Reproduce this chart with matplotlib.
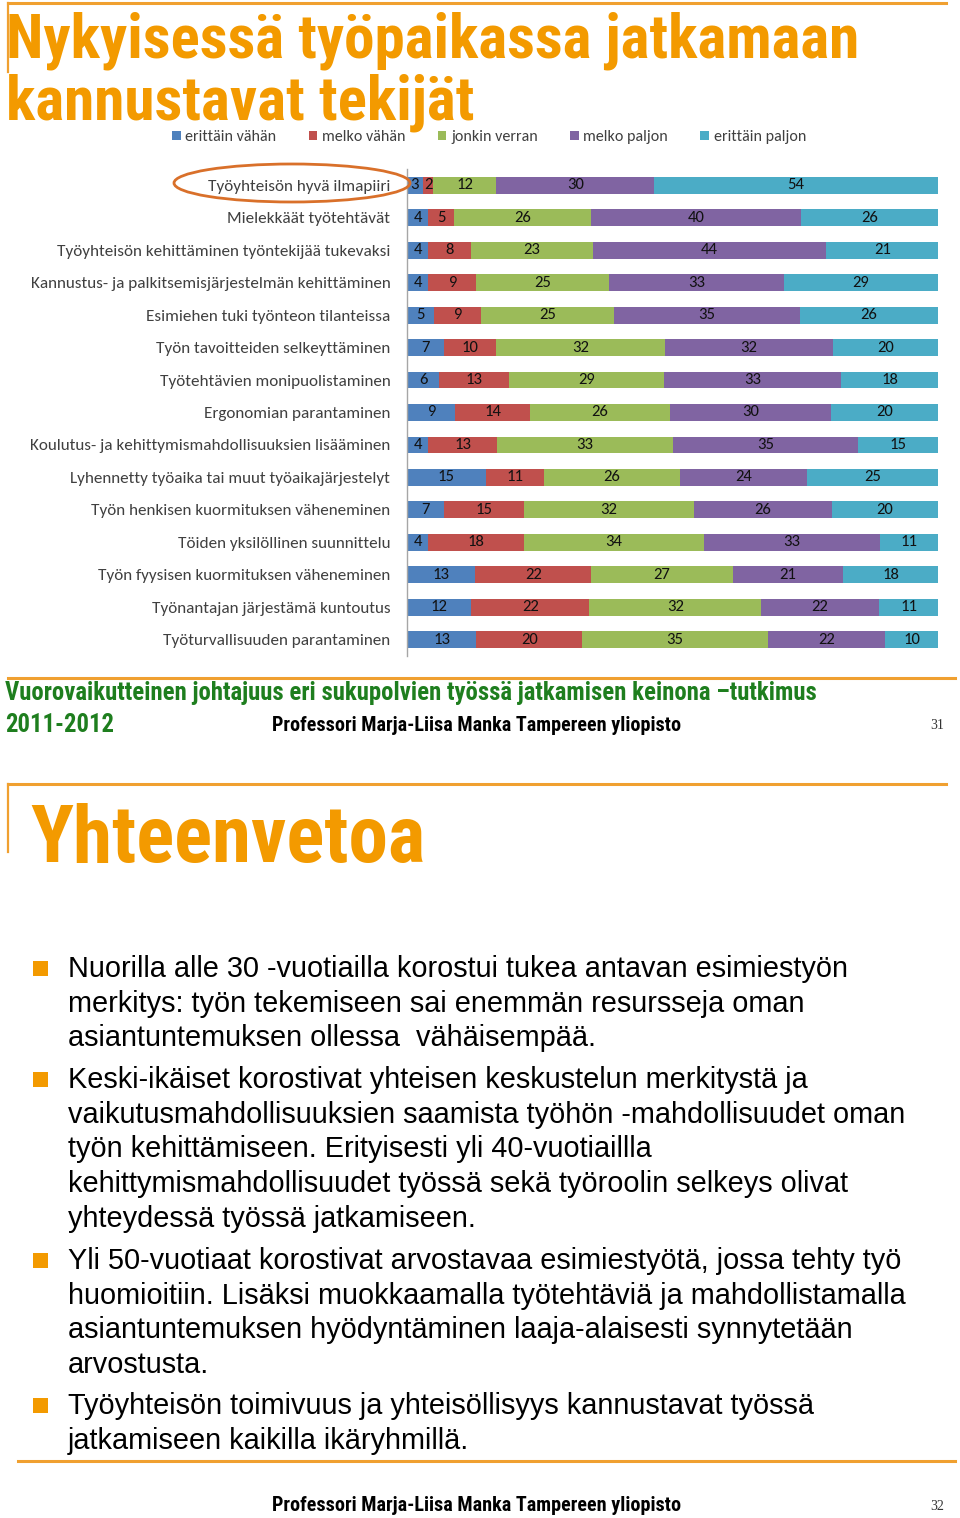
import matplotlib
matplotlib.use("Agg")
import matplotlib.pyplot as plt
from matplotlib.patches import Ellipse, Rectangle
from matplotlib.lines import Line2D
import numpy as np

W, H = 960, 1518

# ---------------- data ----------------
categories = [
    "Työyhteisön hyvä ilmapiiri",
    "Mielekkäät työtehtävät",
    "Työyhteisön kehittäminen työntekijää tukevaksi",
    "Kannustus- ja palkitsemisjärjestelmän kehittäminen",
    "Esimiehen tuki työnteon tilanteissa",
    "Työn tavoitteiden selkeyttäminen",
    "Työtehtävien monipuolistaminen",
    "Ergonomian parantaminen",
    "Koulutus- ja kehittymismahdollisuuksien lisääminen",
    "Lyhennetty työaika tai muut työaikajärjestelyt",
    "Työn henkisen kuormituksen väheneminen",
    "Töiden yksilöllinen suunnittelu",
    "Työn fyysisen kuormituksen väheneminen",
    "Työnantajan järjestämä kuntoutus",
    "Työturvallisuuden parantaminen",
]
series_names = ["erittäin vähän", "melko vähän", "jonkin verran", "melko paljon", "erittäin paljon"]
erittain_vahan = [3, 4, 4, 4, 5, 7, 6, 9, 4, 15, 7, 4, 13, 12, 13]
melko_vahan = [2, 5, 8, 9, 9, 10, 13, 14, 13, 11, 15, 18, 22, 22, 20]
jonkin_verran = [12, 26, 23, 25, 25, 32, 29, 26, 33, 26, 32, 34, 27, 32, 35]
melko_paljon = [30, 40, 44, 33, 35, 32, 33, 30, 35, 24, 26, 33, 21, 22, 22]
erittain_paljon = [54, 26, 21, 29, 26, 20, 18, 20, 15, 25, 20, 11, 18, 11, 10]
series_values = [erittain_vahan, melko_vahan, jonkin_verran, melko_paljon, erittain_paljon]
colors = ["#4F81BD", "#C0504D", "#9BBB59", "#8064A2", "#4BACC6"]

bullets = [
    ["Nuorilla alle 30 -vuotiailla korostui tukea antavan esimiestyön",
     "merkitys: työn tekemiseen sai enemmän resursseja oman",
     "asiantuntemuksen ollessa  vähäisempää."],
    ["Keski-ikäiset korostivat yhteisen keskustelun merkitystä ja",
     "vaikutusmahdollisuuksien saamista työhön -mahdollisuudet oman",
     "työn kehittämiseen. Erityisesti yli 40-vuotiaillla",
     "kehittymismahdollisuudet työssä sekä työroolin selkeys olivat",
     "yhteydessä työssä jatkamiseen."],
    ["Yli 50-vuotiaat korostivat arvostavaa esimiestyötä, jossa tehty työ",
     "huomioitiin. Lisäksi muokkaamalla työtehtäviä ja mahdollistamalla",
     "asiantuntemuksen hyödyntäminen laaja-alaisesti synnytetään",
     "arvostusta."],
    ["Työyhteisön toimivuus ja yhteisöllisyys kannustavat työssä",
     "jatkamiseen kaikilla ikäryhmillä."],
]

# ---------------- fonts ----------------
NARROW = ["Roboto Condensed", "DejaVu Sans"]
ARIAL = ["Liberation Sans", "DejaVu Sans"]
CAL = ["Carlito", "DejaVu Sans"]
SERIF = ["Liberation Serif", "DejaVu Serif"]

ORANGE = "#F39A00"
LINE_OR = "#F0A030"
GREEN = "#1E7E1E"

fig = plt.figure(figsize=(W / 100, H / 100), dpi=100)
fig.patch.set_facecolor("white")

def fx(x):
    return x / W

def fy(y):
    return 1 - y / H

def hline(x0, x1, y, color=LINE_OR, lw=2.2):
    fig.add_artist(Line2D([fx(x0), fx(x1)], [fy(y), fy(y)], transform=fig.transFigure, color=color, lw=lw))

def vline(x, y0, y1, color=LINE_OR, lw=1.6):
    fig.add_artist(Line2D([fx(x), fx(x)], [fy(y0), fy(y1)], transform=fig.transFigure, color=color, lw=lw))

# ---------------- slide 1 ----------------
hline(8, 946, 3)
vline(8, 3, 72)
fig.text(fx(6), fy(58), "Nykyisessä työpaikassa jatkamaan", family=NARROW, weight="bold",
         fontsize=44, color=ORANGE, ha="left", va="baseline")
fig.text(fx(6), fy(119), "kannustavat tekijät", family=NARROW, weight="bold",
         fontsize=44, color=ORANGE, ha="left", va="baseline")

ax = fig.add_axes([fx(407), fy(656), fx(938) - fx(407), (656 - 169) / H])
vals = np.array(series_values, dtype=float)
totals = vals.sum(axis=0)
pct = vals / totals * 100
y = np.arange(len(categories))
left = np.zeros(len(categories))
handles = []
for i, (name, col) in enumerate(zip(series_names, colors)):
    bars = ax.barh(y, pct[i], left=left, height=0.52, color=col, label=name, edgecolor="none")
    handles.append(bars)
    for j, b in enumerate(bars):
        ax.text(left[j] + pct[i][j] / 2, y[j], str(series_values[i][j]), ha="center", va="center",
                fontsize=12, family=CAL, color="#111111")
    left += pct[i]
ax.set_xlim(0, 100)
ax.set_ylim(len(categories) - 0.5, -0.5)
ax.set_yticks(y)
ax.set_yticklabels(categories, family=CAL, fontsize=12.3, color="#404040")
ax.tick_params(axis="y", length=0, pad=12)
ax.set_xticks([])
for s in ["top", "right", "bottom"]:
    ax.spines[s].set_visible(False)
ax.spines["left"].set_color("#A6A6A6")
ax.spines["left"].set_linewidth(1)

fig.legend(handles=handles, labels=series_names, loc="center", ncol=5,
           bbox_to_anchor=(fx(489), fy(137)), frameon=False, handlelength=0.55, handleheight=0.55,
           handletextpad=0.3, columnspacing=2.0, prop={"family": CAL, "size": 11.5},
           labelcolor="#404040")

fig.add_artist(Ellipse((fx(292), fy(183)), fx(236), 38 / H, transform=fig.transFigure,
                       facecolor="none", edgecolor="#D9702A", lw=2))

hline(8, 955, 678)
fig.text(fx(5), fy(700), "Vuorovaikutteinen johtajuus eri sukupolvien työssä jatkamisen keinona –tutkimus",
         family=NARROW, weight="bold", fontsize=17.8, color=GREEN, ha="left", va="baseline")
fig.text(fx(5), fy(732), "2011-2012", family=NARROW, weight="bold", fontsize=17.8, color=GREEN,
         ha="left", va="baseline")
fig.text(fx(272), fy(731), "Professori Marja-Liisa Manka Tampereen yliopisto", family=NARROW,
         weight="bold", fontsize=14.5, color="black", ha="left", va="baseline")
fig.text(fx(944), fy(729), "31", family=SERIF, fontsize=10, color="#333333", ha="right", va="baseline")

# ---------------- slide 2 ----------------
hline(8, 946, 784)
vline(8, 784, 852)
fig.text(fx(30), fy(862), "Yhteenvetoa", family=NARROW, weight="bold", fontsize=57,
         color=ORANGE, ha="left", va="baseline")

first_baselines = [977, 1088, 1269, 1414]
step = 34.7
for para, yb in zip(bullets, first_baselines):
    fig.add_artist(Rectangle((fx(33), fy(yb - 1)), fx(15), 15 / H, transform=fig.transFigure,
                             facecolor="#F39A00", edgecolor="none"))
    for k, line in enumerate(para):
        fig.text(fx(68), fy(yb + k * step), line, family=ARIAL, fontsize=20.8, color="black",
                 ha="left", va="baseline")

hline(18, 955, 1461)
fig.text(fx(272), fy(1511), "Professori Marja-Liisa Manka Tampereen yliopisto", family=NARROW,
         weight="bold", fontsize=14.5, color="black", ha="left", va="baseline")
fig.text(fx(944), fy(1510), "32", family=SERIF, fontsize=10, color="#333333", ha="right", va="baseline")

fig.savefig("out.png", dpi=100, facecolor="white")
